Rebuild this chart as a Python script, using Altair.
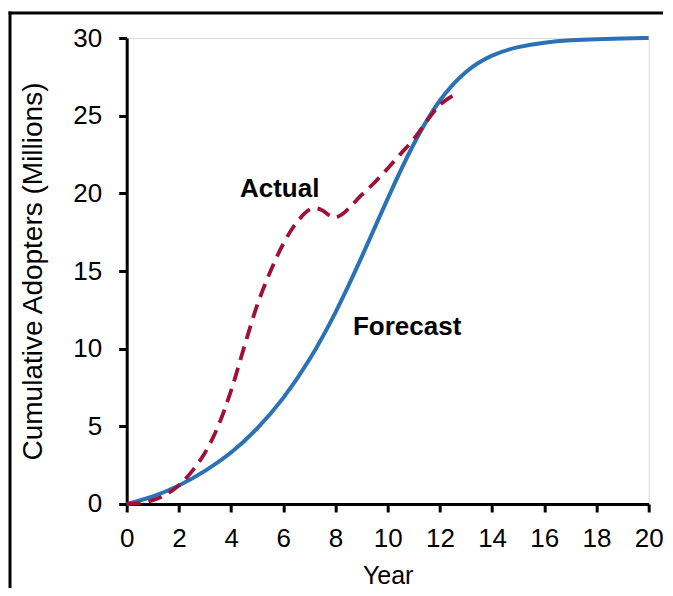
import altair as alt
import pandas as pd

# Forecast (S-curve)
forecast_year = [0, 1, 2, 3, 4, 5, 6, 7, 8, 9, 10, 11, 12, 13, 14, 15, 16, 17, 18, 19, 20]
forecast_val = [0, 0.45, 1.15, 2.1, 3.25, 4.8, 6.75, 9.2, 12.25, 15.85, 19.7, 23.3, 26.15,
                27.95, 28.95, 29.45, 29.72, 29.86, 29.93, 29.97, 30.0]

# Actual adoption (dashed)
actual_year = [0, 0.5, 1, 1.5, 2, 2.5, 3, 3.5, 4, 4.5, 5, 5.5, 6, 6.5, 7, 7.25, 7.5, 7.8, 8,
               8.3, 8.6, 9, 9.5, 10, 10.5, 11, 11.5, 12, 12.6]
actual_val = [0, 0.05, 0.25, 0.6, 1.2, 2.1, 3.3, 5.0, 7.3, 10.1, 12.8, 14.95, 16.75, 18.1, 18.95,
              19.05, 18.9, 18.55, 18.45, 18.7, 19.2, 19.9, 20.7, 21.6, 22.55, 23.5, 24.65, 25.7, 26.4]

# Annotations
label_text = ["Actual", "Forecast"]
label_year = [4.34, 8.67]
label_val = [19.74, 10.87]

x_ticks = list(range(0, 21))
y_ticks = [0, 5, 10, 15, 20, 25, 30]

fc = pd.DataFrame({"year": forecast_year, "value": forecast_val})
ac = pd.DataFrame({"year": actual_year, "value": actual_val})
lb = pd.DataFrame({"year": label_year, "value": label_val, "text": label_text})

FONT = "Liberation Sans"

xscale = alt.Scale(domain=[0, 20], nice=False, zero=False)
yscale = alt.Scale(domain=[0, 30], nice=False, zero=False)

xaxis = alt.Axis(
    title="Year", values=x_ticks,
    labelExpr="datum.value % 2 === 0 ? datum.label : ''",
    grid=False, domainColor="black", domainWidth=3, tickColor="black", tickWidth=3,
    tickSize=8, labelFontSize=26, labelFont=FONT, labelColor="black", labelPadding=14,
    titleFontSize=25, titleFont=FONT, titleFontWeight="normal", titleColor="black",
    titleBaseline="alphabetic", titleY=80, labelFlush=False,
)
yaxis = alt.Axis(
    title="Cumulative Adopters (Millions)", values=y_ticks,
    grid=False, domainColor="black", domainWidth=3, tickColor="black", tickWidth=3,
    tickSize=8, labelFontSize=26, labelFont=FONT, labelColor="black", labelPadding=17,
    titleFontSize=28, titleFont=FONT, titleFontWeight="normal", titleColor="black",
    titleAngle=-90, titleBaseline="alphabetic", titleX=-85, titleY=233, titleAlign="center",
    labelFlush=False,
)

forecast = alt.Chart(fc).mark_line(color="#2b72b5", strokeWidth=4, interpolate="basis").encode(
    x=alt.X("year:Q", scale=xscale, axis=xaxis),
    y=alt.Y("value:Q", scale=yscale, axis=yaxis),
)
actual = alt.Chart(ac).mark_line(color="#9e1238", strokeWidth=3.8, strokeDash=[14, 8],
                                 interpolate="catmull-rom").encode(
    x=alt.X("year:Q", scale=xscale),
    y=alt.Y("value:Q", scale=yscale),
)
labels = alt.Chart(lb).mark_text(align="left", baseline="alphabetic", fontSize=26,
                                 fontWeight="bold", font=FONT, color="black").encode(
    x=alt.X("year:Q", scale=xscale),
    y=alt.Y("value:Q", scale=yscale),
    text="text:N",
)

# outer frame: top and left edges as thin filled bars (the rest lies outside the picture)
frame_top = alt.Chart(lb.head(1)).mark_rect(color="black", opacity=1).encode(
    x=alt.value(-118.2), x2=alt.value(540), y=alt.value(-26.5), y2=alt.value(-23.5)
)
frame_left = alt.Chart(lb.head(1)).mark_rect(color="black", opacity=1).encode(
    x=alt.value(-118.2), x2=alt.value(-115.2), y=alt.value(-26.5), y2=alt.value(580)
)

chart = alt.layer(frame_top, frame_left, forecast, actual, labels).properties(
    width=522, height=466,
    autosize=alt.AutoSizeParams(type="none"),
    padding={"left": 118.7, "top": 30, "right": 14, "bottom": 84},
).configure_view(strokeWidth=0).configure(background="white")

chart.save("out.html", embed_options={"renderer": "svg", "actions": False})
